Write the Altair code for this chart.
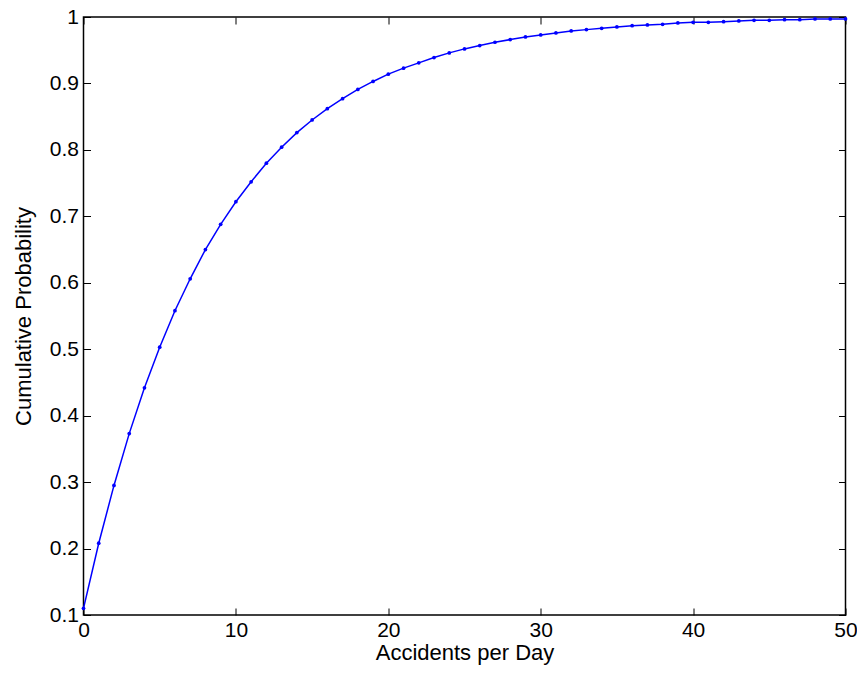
import altair as alt
import pandas as pd

accidents = list(range(0, 51))
cum_prob = [0.110, 0.208, 0.295, 0.373, 0.442, 0.503, 0.558, 0.606, 0.650, 0.688,
            0.722, 0.752, 0.780, 0.804, 0.826, 0.845, 0.862, 0.877, 0.891, 0.903,
            0.914, 0.923, 0.931, 0.939, 0.946, 0.952, 0.957, 0.962, 0.966, 0.970,
            0.973, 0.976, 0.979, 0.981, 0.983, 0.985, 0.987, 0.988, 0.989, 0.991,
            0.992, 0.992, 0.993, 0.994, 0.995, 0.995, 0.996, 0.996, 0.997, 0.997,
            0.997]
x_ticks = [0, 10, 20, 30, 40, 50]
y_ticks = [0.1, 0.2, 0.3, 0.4, 0.5, 0.6, 0.7, 0.8, 0.9, 1.0]

df = pd.DataFrame({"k": accidents, "p": cum_prob})

FONT = "Liberation Sans"
BLUE = "#0000ff"

xs = alt.Scale(domain=[0, 50], nice=False, zero=False)
ys = alt.Scale(domain=[0.1, 1.0], nice=False, zero=False)

common_axis = dict(tickSize=7, tickColor="black", tickWidth=1, domain=False, grid=False,
                   offset=-7, labelFont=FONT, labelFontSize=21, labelColor="black",
                   labelFlush=False, labelOverlap=False, labelBound=False,
                   titleFont=FONT, titleFontSize=22, titleFontWeight="normal",
                   titleColor="black")

x_bottom = alt.Axis(orient="bottom", values=x_ticks, title="Accidents per Day", format="d",
                    labelPadding=4, titlePadding=2, **common_axis)
y_left = alt.Axis(orient="left", values=y_ticks, title="Cumulative Probability",
                  labelExpr="datum.value == 1 ? '1' : format(datum.value, '.1f')",
                  labelPadding=5, titlePadding=14, **common_axis)

line = alt.Chart(df).mark_line(color=BLUE, strokeWidth=1.5).encode(
    x=alt.X("k:Q", scale=xs, axis=x_bottom),
    y=alt.Y("p:Q", scale=ys, axis=y_left),
)
points = alt.Chart(df).mark_circle(color=BLUE, size=14, opacity=1).encode(
    x=alt.X("k:Q", scale=xs, axis=None),
    y=alt.Y("p:Q", scale=ys, axis=None),
)

mirror_axis = dict(tickSize=7, tickColor="black", tickWidth=1, domain=False, grid=False,
                   offset=-7, labels=False, title=None)
mirror = alt.Chart(df).mark_point(opacity=0).encode(
    x=alt.X("k:Q", scale=xs, axis=alt.Axis(orient="top", values=x_ticks, **mirror_axis)),
    y=alt.Y("p:Q", scale=ys, axis=alt.Axis(orient="right", values=y_ticks, **mirror_axis)),
)

chart = alt.layer(line, points, mirror).resolve_axis(
    x="independent", y="independent"
).properties(
    width=762, height=598,
    background="white",
    autosize=alt.AutoSizeParams(type="none"),
    padding={"left": 75.5, "top": 9, "right": 11.5, "bottom": 51},
).configure_view(stroke="black", strokeWidth=1.5)

chart.save("out.html", embed_options={"renderer": "svg", "actions": False})
